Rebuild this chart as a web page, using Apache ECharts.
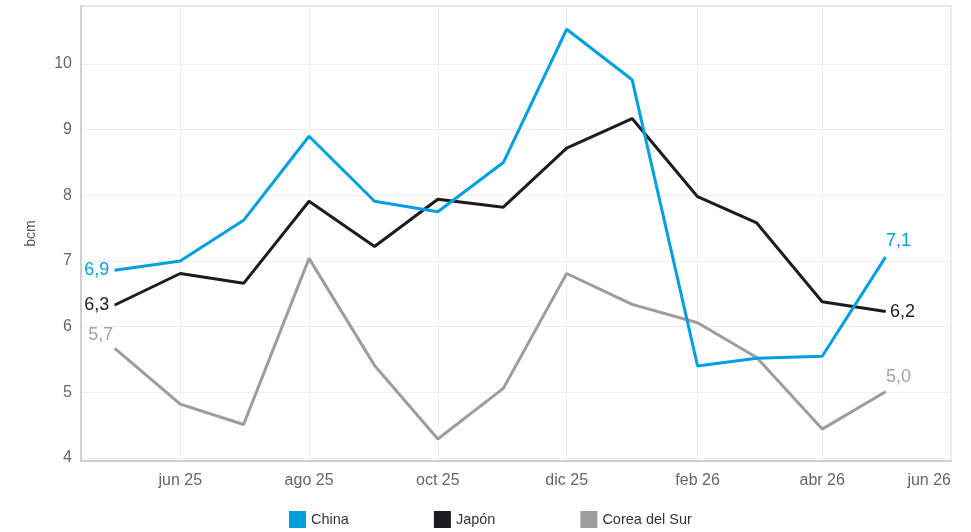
<!DOCTYPE html>
<html>
<head>
<meta charset="utf-8">
<script src="https://cdn.jsdelivr.net/npm/echarts@6/dist/echarts.min.js"></script>
<style>
html,body{margin:0;padding:0;background:#fff;}
#chart{width:971px;height:532px;}
</style>
</head>
<body>
<div id="chart"></div>
<script>
var months = ['2025-05-01','2025-06-01','2025-07-01','2025-08-01','2025-09-01','2025-10-01','2025-11-01','2025-12-01','2026-01-01','2026-02-01','2026-03-01','2026-04-01','2026-05-01'];
var china = [6.86, 7.00, 7.62, 8.90, 7.91, 7.75, 8.50, 10.53, 9.76, 5.40, 5.52, 5.55, 7.06];
var japon = [6.33, 6.81, 6.66, 7.91, 7.22, 7.94, 7.82, 8.72, 9.17, 7.98, 7.58, 6.38, 6.23];
var corea = [5.67, 4.82, 4.51, 7.04, 5.41, 4.29, 5.06, 6.81, 6.34, 6.06, 5.53, 4.44, 5.01];
var seriesNames = ['China', 'Japón', 'Corea del Sur'];
var tickDates = ['2025-06-01','2025-08-01','2025-10-01','2025-12-01','2026-02-01','2026-04-01','2026-06-01'];
var tickLabels = ['jun 25','ago 25','oct 25','dic 25','feb 26','abr 26','jun 26'];
var yTicks = [4, 5, 6, 7, 8, 9, 10];

function ts(s){ var p = s.split('-'); return Date.UTC(+p[0], +p[1]-1, +p[2]); }
var tickTs = tickDates.map(ts);
var labelMap = {};
tickTs.forEach(function(t, i){ labelMap[t] = tickLabels[i]; });

var colors = ['#009fe0', '#1c1b20', '#9d9d9d'];
var labelColors = ['#009fe0', '#1c1b20', '#a3a3a3'];
var FONT = '"Liberation Sans", Arial, sans-serif';

var firstLabel = [
  {position:'left', distance:5, offset:[0,0]},
  {position:'left', distance:5, offset:[0,0]},
  {position:'left', distance:1, offset:[0,-13]}
];
var lastLabel = [
  {position:'right', distance:0, offset:[0,-16]},
  {position:'right', distance:4, offset:[0,0]},
  {position:'right', distance:0, offset:[0,-15]}
];

function fmt(v){ return v.toFixed(1).replace('.', ','); }

function build(vals, k){
  return vals.map(function(v, i){
    var item = {value:[ts(months[i]), v]};
    if (i === 0 || i === vals.length - 1) {
      var cfg = i === 0 ? firstLabel[k] : lastLabel[k];
      item.label = {
        show:true, position:cfg.position, distance:cfg.distance, offset:cfg.offset,
        color:labelColors[k], fontSize:18, fontFamily:FONT,
        formatter:function(p){ return fmt(p.value[1]); }
      };
    }
    return item;
  });
}

var allVals = [china, japon, corea];
var series = allVals.map(function(vals, k){
  return {
    name: seriesNames[k],
    type:'line',
    data: build(vals, k),
    symbol:'circle',
    symbolSize:1,
    showSymbol:true,
    lineStyle:{color:colors[k], width:3},
    itemStyle:{color:colors[k]},
    label:{show:false},
    emphasis:{disabled:true},
    z: 3 - k
  };
});

var chart = echarts.init(document.getElementById('chart'), null, {renderer:'canvas'});
chart.setOption({
  animation:false,
  backgroundColor:'#ffffff',
  grid:{left:81, top:6, right:20, bottom:71, show:true, borderColor:'#d0d0d0', borderWidth:1, containLabel:false},
  legend:{
    left:289, top:511, padding:0, itemGap:85, itemWidth:17, itemHeight:17, icon:'rect',
    textStyle:{fontSize:14.5, color:'#333', fontFamily:FONT},
    data: seriesNames.map(function(n, k){ return {name:n, itemStyle:{color:colors[k]}}; })
  },
  xAxis:{
    type:'value',
    min: ts('2025-04-15'),
    max: ts('2026-06-01'),
    axisLine:{show:true, onZero:false, lineStyle:{color:'#c8c8c8', width:1.5}},
    axisTick:{show:false, customValues: tickTs},
    axisLabel:{
      customValues: tickTs,
      margin:12,
      fontSize:16, color:'#666', fontFamily:FONT,
      alignMaxLabel:'right',
      formatter:function(v){ return labelMap[v] || ''; }
    },
    splitLine:{show:true, lineStyle:{color:'#efefef', width:1}}
  },
  yAxis:{
    type:'value',
    min:3.954,
    max:10.884,
    name:'bcm',
    nameLocation:'middle',
    nameGap:43,
    nameRotate:90,
    nameTextStyle:{fontSize:14, color:'#555', fontFamily:FONT},
    axisLine:{show:true, lineStyle:{color:'#c8c8c8', width:1.5}},
    axisTick:{show:false, customValues: yTicks},
    axisLabel:{customValues: yTicks, margin:9, fontSize:16, color:'#666', fontFamily:FONT,
      formatter:function(v){ return String(v); }},
    splitLine:{show:true, lineStyle:{color:'#efefef', width:1}}
  },
  series: series
});
</script>
</body>
</html>
